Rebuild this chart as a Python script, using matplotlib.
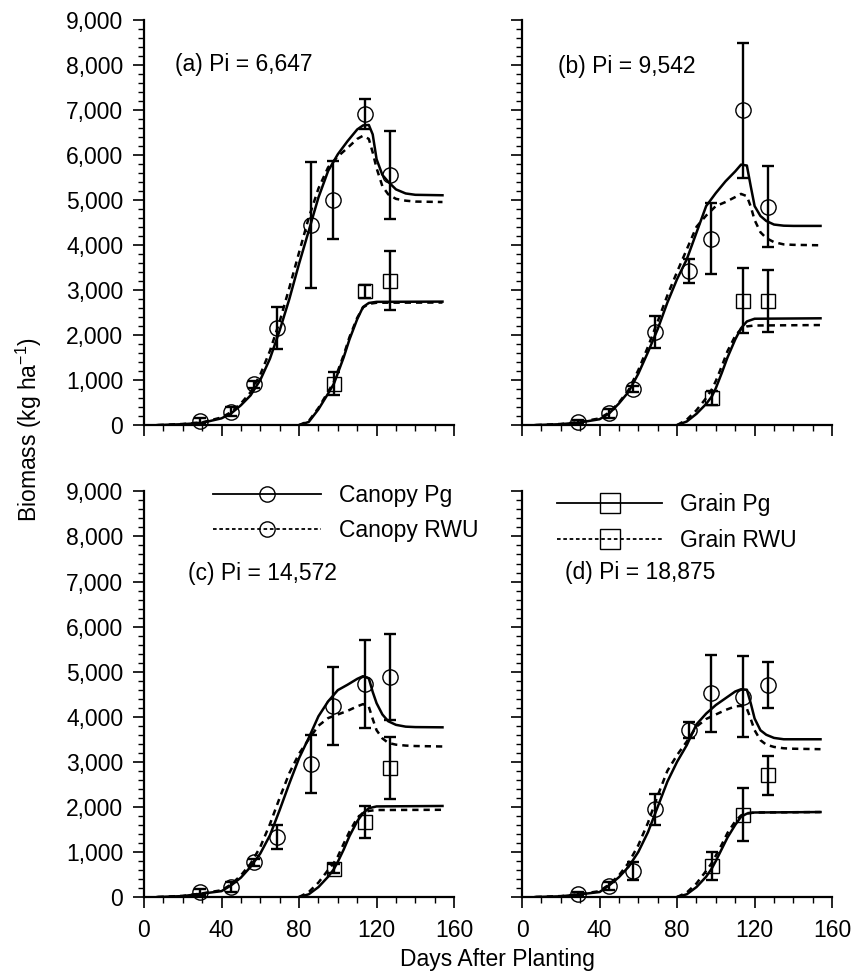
import numpy as np
import matplotlib
matplotlib.use("Agg")
import matplotlib.pyplot as plt
from matplotlib.ticker import MultipleLocator, FuncFormatter
from matplotlib.lines import Line2D

plt.rcParams['font.family'] = ['Liberation Sans', 'DejaVu Sans']
plt.rcParams['mathtext.fontset'] = 'custom'
plt.rcParams['mathtext.rm'] = 'Liberation Sans'
plt.rcParams['font.size'] = 16

# simulated curves, days after planting
model_days = [7, 20, 30, 40, 45, 50, 55, 60, 65, 70, 75, 80, 85, 90, 95, 100,
              105, 110, 113, 116, 118, 120, 123, 126, 130, 135, 140, 154]
grain_days = [80, 85, 90, 95, 98, 100, 103, 106, 110, 113, 116, 120, 154]

# observations
canopy_obs_days = [28.7, 44.7, 57, 68.5, 86, 97.5, 113.8, 126.8]
grain_obs_days = [98, 114, 127]

panel_labels = ["(a) Pi = 6,647", "(b) Pi = 9,542", "(c) Pi = 14,572", "(d) Pi = 18,875"]
label_pos = [(16, 8000), (18.4, 7950), (22.7, 7170), (22.2, 7200)]

canopy_pg = [
    [0, 20, 50, 150, 260, 440, 660, 1000, 1475, 2100, 2800, 3580, 4310, 5050, 5640, 6010,
     6300, 6560, 6650, 6660, 6450, 5900, 5550, 5400, 5230, 5140, 5110, 5100],
    [0, 20, 60, 130, 260, 480, 740, 1140, 1620, 2130, 2720, 3240, 3680, 4270, 4860, 5150,
     5410, 5630, 5780, 5760, 5300, 4860, 4640, 4530, 4450, 4425, 4420, 4420],
    [0, 20, 75, 130, 260, 430, 670, 965, 1370, 1930, 2520, 3080, 3530, 4010, 4340, 4590,
     4710, 4840, 4900, 4850, 4550, 4300, 4050, 3900, 3820, 3780, 3770, 3765],
    [0, 15, 60, 110, 260, 440, 670, 1000, 1440, 2000, 2560, 3000, 3370, 3830, 4070, 4260,
     4410, 4560, 4610, 4600, 4300, 3960, 3700, 3600, 3530, 3500, 3500, 3500],
]
canopy_rwu = [
    [0, 25, 60, 170, 290, 480, 730, 1120, 1650, 2300, 3050, 3830, 4600, 5250, 5720, 5960,
     6150, 6350, 6420, 6350, 6050, 5700, 5300, 5120, 5020, 4980, 4960, 4950],
    [0, 25, 70, 150, 280, 500, 780, 1220, 1740, 2300, 2880, 3400, 3900, 4400, 4650, 4860,
     4950, 5060, 5130, 5080, 4850, 4550, 4280, 4150, 4060, 4010, 4000, 3990],
    [0, 25, 80, 150, 280, 480, 740, 1110, 1620, 2200, 2750, 3180, 3500, 3800, 3970, 4050,
     4130, 4230, 4280, 4220, 3950, 3700, 3520, 3420, 3380, 3360, 3350, 3340],
    [0, 20, 65, 130, 280, 480, 760, 1150, 1650, 2250, 2800, 3150, 3450, 3780, 3950, 4050,
     4150, 4230, 4240, 4180, 3950, 3700, 3480, 3380, 3330, 3300, 3290, 3280],
]
grain_pg = [
    [0, 70, 350, 700, 920, 1150, 1500, 1900, 2350, 2620, 2710, 2735, 2740],
    [0, 80, 250, 470, 640, 820, 1150, 1500, 1900, 2150, 2300, 2360, 2370],
    [0, 60, 220, 450, 620, 780, 1050, 1350, 1680, 1860, 1970, 2010, 2020],
    [0, 60, 220, 450, 640, 800, 1060, 1320, 1600, 1780, 1850, 1875, 1885],
]
grain_rwu = [
    [0, 90, 380, 740, 960, 1200, 1550, 1950, 2380, 2610, 2690, 2715, 2720],
    [0, 120, 330, 600, 800, 980, 1300, 1640, 1980, 2130, 2190, 2210, 2220],
    [0, 110, 320, 600, 760, 900, 1180, 1450, 1750, 1870, 1910, 1930, 1935],
    [0, 100, 300, 580, 760, 920, 1160, 1420, 1680, 1810, 1860, 1875, 1885],
]

canopy_obs = [
    [96, 295, 907, 2153, 4447, 4993, 6910, 5546],
    [74, 258, 795, 2062, 3424, 4138, 6981, 4845],
    [111, 223, 772, 1336, 2955, 4232, 4729, 4877],
    [74, 244, 570, 1948, 3704, 4519, 4444, 4704],
]
canopy_err = [
    [60, 100, 80, 460, 1400, 870, 330, 970],
    [50, 100, 70, 360, 260, 780, 1500, 900],
    [60, 120, 80, 270, 640, 870, 970, 950],
    [40, 80, 200, 340, 180, 850, 900, 500],
]
grain_obs = [
    [922, 2965, 3208],
    [604, 2761, 2761],
    [631, 1670, 2858],
    [689, 1830, 2704],
]
grain_err = [
    [250, 150, 660],
    [150, 720, 690],
    [100, 360, 690],
    [310, 590, 430],
]

fig = plt.figure(figsize=(8.52, 9.75), dpi=100)
lefts = [0.169, 0.6127, 0.169, 0.6127]
bottoms = [0.564, 0.564, 0.080, 0.080]
w, h = 0.364, 0.416

axes = []
for i in range(4):
    ax = fig.add_axes([lefts[i], bottoms[i], w, h])
    axes.append(ax)

    ax.plot(model_days, canopy_pg[i], color='k', lw=1.8, zorder=3)
    ax.plot(model_days, canopy_rwu[i], color='k', lw=1.8, ls=(0, (2.5, 2)), zorder=3)
    ax.plot(grain_days, grain_pg[i], color='k', lw=1.8, zorder=3)
    ax.plot(grain_days, grain_rwu[i], color='k', lw=1.8, ls=(0, (2.5, 2)), zorder=3)

    ax.errorbar(canopy_obs_days, canopy_obs[i], yerr=canopy_err[i], fmt='none',
                ecolor='k', elinewidth=1.7, capsize=4, capthick=1.7, clip_on=False, zorder=4)
    ax.errorbar(grain_obs_days, grain_obs[i], yerr=grain_err[i], fmt='none',
                ecolor='k', elinewidth=1.7, capsize=4, capthick=1.7, clip_on=False, zorder=4)
    ax.plot(canopy_obs_days, canopy_obs[i], 'o', ms=11, mfc='none', mec='k', mew=1.0,
            clip_on=False, zorder=5)
    ax.plot(grain_obs_days, grain_obs[i], 's', ms=10, mfc='none', mec='k', mew=1.0,
            clip_on=False, zorder=5)

    ax.text(label_pos[i][0], label_pos[i][1], panel_labels[i], fontsize=16.5,
            ha='left', va='center')

    ax.set_xlim(0, 160)
    ax.set_ylim(0, 9000)
    ax.xaxis.set_major_locator(MultipleLocator(40))
    ax.xaxis.set_minor_locator(MultipleLocator(10))
    ax.yaxis.set_major_locator(MultipleLocator(1000))
    ax.yaxis.set_minor_locator(MultipleLocator(200))
    ax.yaxis.set_major_formatter(FuncFormatter(lambda v, p: f"{int(v):,}"))
    for s in ['top', 'right']:
        ax.spines[s].set_visible(False)
    for s in ['left', 'bottom']:
        ax.spines[s].set_linewidth(1.6)
    ax.tick_params(which='major', direction='out', length=8, width=1.2, labelsize=16.5)
    ax.tick_params(axis='y', which='major', pad=7)
    ax.tick_params(axis='x', which='major', pad=8)
    ax.tick_params(which='minor', direction='out', length=4, width=1.0)
    if i in (0, 1):
        ax.tick_params(axis='x', labelbottom=False)
    if i in (1, 3):
        ax.tick_params(axis='y', labelleft=False)

# legends
canopy_handles = [
    Line2D([], [], color='k', lw=1.3, marker='o', ms=11, mfc='none', mec='k'),
    Line2D([], [], color='k', lw=1.3, ls=(0, (2, 1.5)), marker='o', ms=11, mfc='none', mec='k'),
]
grain_handles = [
    Line2D([], [], color='k', lw=1.3, marker='s', ms=15, mfc='none', mec='k'),
    Line2D([], [], color='k', lw=1.3, ls=(0, (2, 1.5)), marker='s', ms=15, mfc='none', mec='k'),
]
axes[2].legend(canopy_handles, ["Canopy Pg", "Canopy RWU"], loc='upper left',
               bbox_to_anchor=(0.2226, 1.019), frameon=False, borderpad=0,
               borderaxespad=0, handlelength=4.7, handletextpad=0.8,
               labelspacing=0.55, numpoints=1, fontsize=16.5)
axes[3].legend(grain_handles, ["Grain Pg", "Grain RWU"], loc='upper left',
               bbox_to_anchor=(0.113, 0.996), frameon=False, borderpad=0,
               borderaxespad=0, handlelength=4.6, handletextpad=0.75,
               labelspacing=0.55, numpoints=1, fontsize=16.5)

fig.text(0.034, 0.559, "Biomass (kg ha$^{-1}$)", rotation=90, ha='center', va='center',
         fontsize=16.5)
fig.text(0.584, 0.0154, "Days After Planting", ha='center', va='center', fontsize=16.5)

fig.savefig("out.png", dpi=100)
